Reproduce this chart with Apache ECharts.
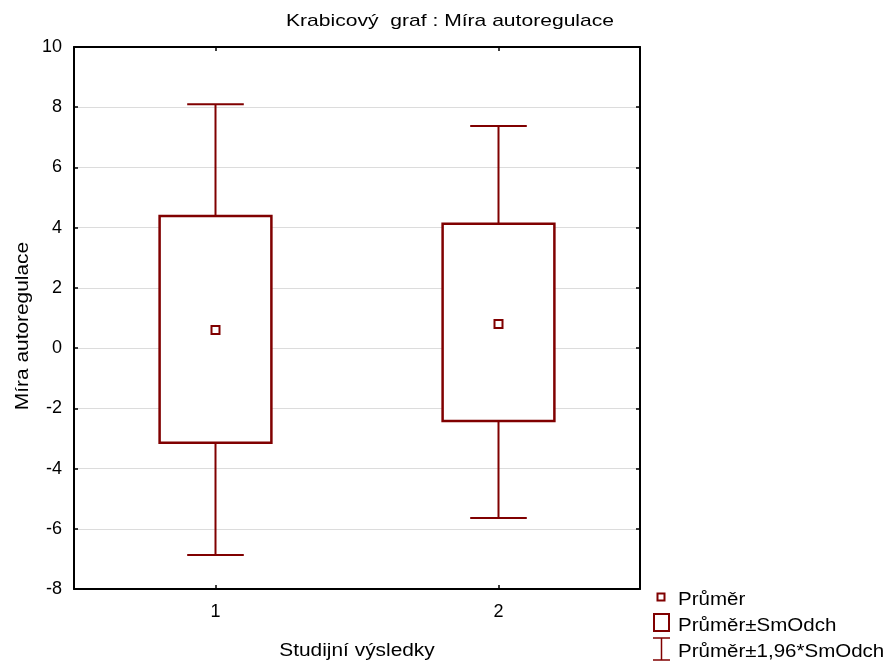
<!DOCTYPE html>
<html>
<head>
<meta charset="utf-8">
<title>Krabicový graf : Míra autoregulace</title>
<script src="https://cdn.jsdelivr.net/npm/echarts@6/dist/echarts.min.js"></script>
<style>
  html, body { margin: 0; padding: 0; background: #fff; }
  #chart { width: 888px; height: 662px; }
</style>
</head>
<body>
<div id="chart"></div>
<script>
// data
const categories = ['1', '2'];
const means = [0.6, 0.8];
const sdLow = [-3.14, -2.42];
const sdHigh = [4.39, 4.13];
const ciLow = [-6.87, -5.64];
const ciHigh = [8.1, 7.38];
const yTicks = { min: -8, max: 10, step: 2 };

const legendLabels = ['Průměr', 'Průměr±SmOdch', 'Průměr±1,96*SmOdch'];

const RED = '#800000';
const FONT = '"Liberation Sans", Arial, sans-serif';

const seriesData = categories.map((c, i) => [i, means[i], sdLow[i], sdHigh[i], ciLow[i], ciHigh[i]]);

function renderBox(params, api) {
  const x = api.value(0);
  const band = api.size([1, 0])[0];
  const boxW = band * 0.395;
  const capW = band * 0.2;
  const m = api.coord([x, api.value(1)]);
  const bl = api.coord([x, api.value(2)]);
  const bh = api.coord([x, api.value(3)]);
  const wl = api.coord([x, api.value(4)]);
  const wh = api.coord([x, api.value(5)]);
  const cx = m[0];
  const lineStyle = { stroke: RED, lineWidth: 2, fill: null };
  return {
    type: 'group',
    children: [
      { type: 'line', shape: { x1: cx, y1: wh[1], x2: cx, y2: bh[1] }, style: lineStyle },
      { type: 'line', shape: { x1: cx, y1: bl[1], x2: cx, y2: wl[1] }, style: lineStyle },
      { type: 'line', shape: { x1: cx - capW / 2, y1: wh[1], x2: cx + capW / 2, y2: wh[1] }, style: lineStyle },
      { type: 'line', shape: { x1: cx - capW / 2, y1: wl[1], x2: cx + capW / 2, y2: wl[1] }, style: lineStyle },
      {
        type: 'rect',
        shape: { x: cx - boxW / 2, y: bh[1], width: boxW, height: bl[1] - bh[1] },
        style: { stroke: RED, lineWidth: 2.5, fill: '#fff' }
      },
      {
        type: 'rect',
        shape: { x: cx - 4, y: m[1] - 4, width: 8, height: 8 },
        style: { stroke: RED, lineWidth: 2, fill: '#fff' }
      }
    ]
  };
}

function txt(text, x, y, size, sx, align, rot) {
  return {
    type: 'text',
    x: x, y: y,
    rotation: rot || 0,
    scaleX: sx,
    silent: true,
    style: {
      text: text,
      fill: '#000',
      font: size + 'px ' + FONT,
      textAlign: align, align: align,
      textVerticalAlign: 'middle', verticalAlign: 'middle'
    }
  };
}

const axisBase = {
  axisLine: { show: true, onZero: false, lineStyle: { color: '#000', width: 2 } },
  axisTick: { show: true, inside: true, length: 4, lineStyle: { color: '#000', width: 1.5 } }
};

const option = {
  animation: false,
  backgroundColor: '#fff',
  grid: { left: 74, right: 248, top: 47, bottom: 73 },
  xAxis: [
    Object.assign({}, axisBase, {
      type: 'category',
      data: categories,
      position: 'bottom',
      boundaryGap: true,
      axisTick: Object.assign({}, axisBase.axisTick, { alignWithLabel: true }),
      axisLabel: { color: '#000', fontSize: 18, fontFamily: FONT, margin: 14 },
      splitLine: { show: false }
    }),
    Object.assign({}, axisBase, {
      type: 'category',
      data: categories,
      position: 'top',
      boundaryGap: true,
      axisTick: Object.assign({}, axisBase.axisTick, { alignWithLabel: true }),
      axisLabel: { show: false },
      splitLine: { show: false }
    })
  ],
  yAxis: [
    Object.assign({}, axisBase, {
      type: 'value',
      position: 'left',
      min: yTicks.min, max: yTicks.max, interval: yTicks.step,
      axisLabel: { color: '#000', fontSize: 18, fontFamily: FONT, margin: 12 },
      splitLine: { show: true, lineStyle: { color: '#dcdcdc', width: 1 } }
    }),
    Object.assign({}, axisBase, {
      type: 'value',
      position: 'right',
      min: yTicks.min, max: yTicks.max, interval: yTicks.step,
      axisLabel: { show: false },
      splitLine: { show: false }
    })
  ],
  series: [{
    type: 'custom',
    xAxisIndex: 0,
    yAxisIndex: 0,
    renderItem: renderBox,
    encode: { x: 0, y: [1, 2, 3, 4, 5] },
    data: seriesData,
    z: 5
  }],
  graphic: [
    txt('Krabicový  graf : Míra autoregulace', 450, 21, 17, 1.24, 'center'),
    txt('Studijní výsledky', 357, 651, 18, 1.16, 'center'),
    txt('Míra autoregulace', 23, 326, 18, 1.16, 'center', Math.PI / 2),
    // legend
    { type: 'rect', silent: true, shape: { x: 657.5, y: 593.5, width: 7, height: 7 }, style: { stroke: RED, lineWidth: 2, fill: '#fff' } },
    { type: 'rect', silent: true, shape: { x: 654, y: 614, width: 15, height: 17 }, style: { stroke: RED, lineWidth: 2, fill: '#fff' } },
    { type: 'line', silent: true, shape: { x1: 653, y1: 638, x2: 670, y2: 638 }, style: { stroke: RED, lineWidth: 1.5 } },
    { type: 'line', silent: true, shape: { x1: 661.5, y1: 638, x2: 661.5, y2: 660 }, style: { stroke: RED, lineWidth: 1.5 } },
    { type: 'line', silent: true, shape: { x1: 653, y1: 660, x2: 670, y2: 660 }, style: { stroke: RED, lineWidth: 1.5 } },
    txt(legendLabels[0], 678, 600, 18, 1.14, 'left'),
    txt(legendLabels[1], 678, 626, 18, 1.14, 'left'),
    txt(legendLabels[2], 678, 652, 18, 1.14, 'left')
  ]
};

const chart = echarts.init(document.getElementById('chart'));
chart.setOption(option);
window.addEventListener('resize', () => chart.resize());
</script>
</body>
</html>
